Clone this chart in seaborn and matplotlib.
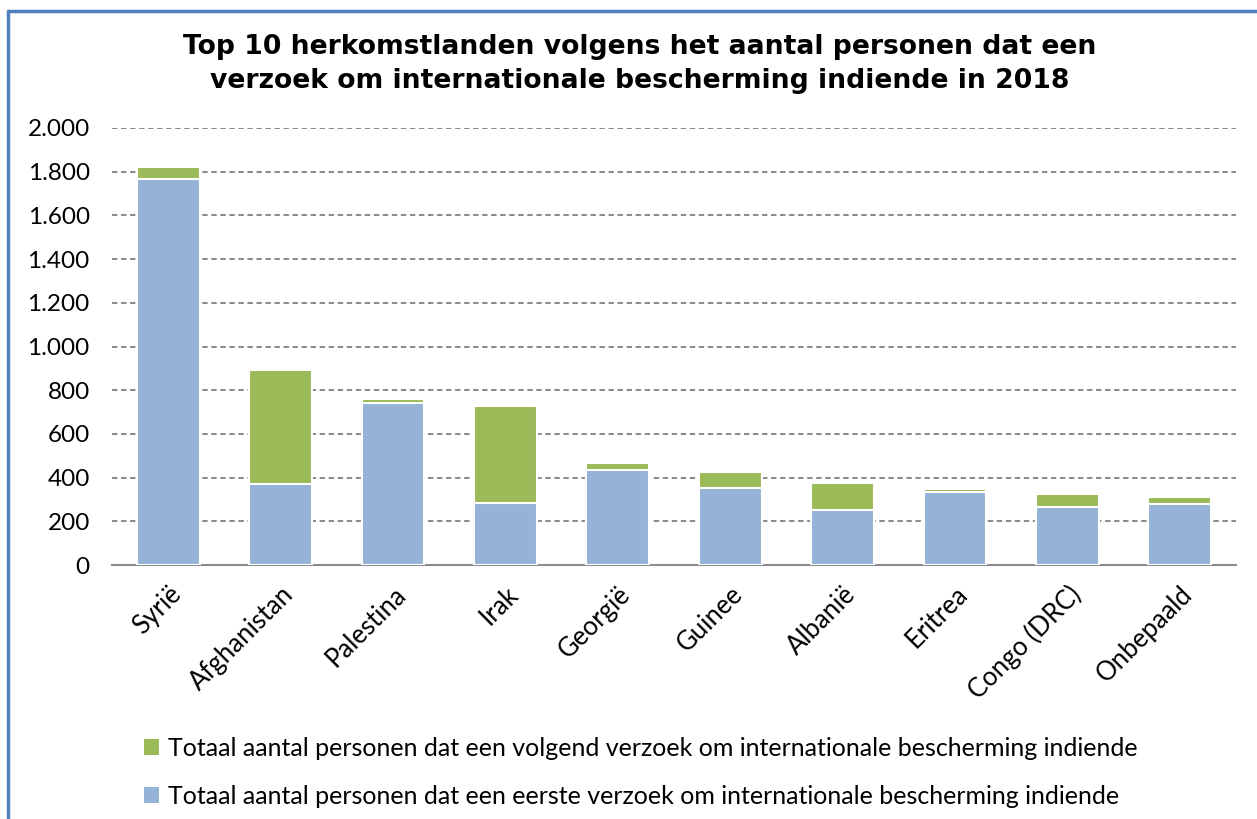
import matplotlib
matplotlib.use("Agg")
import matplotlib.pyplot as plt
from matplotlib.lines import Line2D
from matplotlib.patches import Patch
import seaborn as sns
import pandas as pd

countries = ["Syrië", "Afghanistan", "Palestina", "Irak", "Georgië",
             "Guinee", "Albanië", "Eritrea", "Congo (DRC)", "Onbepaald"]
eerste = [1767, 372, 743, 286, 436, 353, 252, 335, 265, 280]
volgend = [55, 519, 17, 440, 32, 71, 121, 15, 61, 30]
yticks = [0, 200, 400, 600, 800, 1000, 1200, 1400, 1600, 1800, 2000]
ytick_labels = ["0", "200", "400", "600", "800", "1.000", "1.200", "1.400", "1.600", "1.800", "2.000"]
title = ("Top 10 herkomstlanden volgens het aantal personen dat een\n"
         "verzoek om internationale bescherming indiende in 2018")
label_volgend = "Totaal aantal personen dat een volgend verzoek om internationale bescherming indiende"
label_eerste = "Totaal aantal personen dat een eerste verzoek om internationale bescherming indiende"

BLUE = "#95B3D7"
GREEN = "#9BBB59"

df = pd.DataFrame({"land": countries, "eerste": eerste, "volgend": volgend})
df["totaal"] = df["eerste"] + df["volgend"]

sns.set_theme(style="white")
plt.rcParams["font.family"] = ["Lato", "DejaVu Sans"]
plt.rcParams["text.color"] = "black"
plt.rcParams["xtick.color"] = "black"
plt.rcParams["ytick.color"] = "black"

fig = plt.figure(figsize=(12.57, 8.19), dpi=100)
ax = fig.add_axes([112 / 1257, 1 - 565 / 819, (1236 - 112) / 1257, (565 - 128) / 819])

ax.set_axisbelow(True)
for t in yticks[1:]:
    ax.axhline(t, color="#808080", linestyle=(0, (3, 2)), linewidth=1.3, zorder=0)

sns.barplot(data=df, x="land", y="totaal", color=GREEN, width=0.56, ax=ax,
            edgecolor="white", linewidth=1.5, saturation=1, zorder=2)
sns.barplot(data=df, x="land", y="eerste", color=BLUE, width=0.56, ax=ax,
            edgecolor="white", linewidth=1.5, saturation=1, zorder=3)

ax.set_ylim(0, 2000)
ax.set_xlim(-0.5, len(countries) - 0.5)
ax.set_yticks(yticks)
ax.set_yticklabels(ytick_labels, fontsize=17.5)
ax.set_xticks(range(len(countries)))
ax.set_xticklabels(countries, fontsize=18.5, rotation=45, ha="right", rotation_mode="anchor")
ax.set_xlabel("")
ax.set_ylabel("")
ax.tick_params(axis="y", length=0, pad=16)
ax.tick_params(axis="x", length=0, pad=12)
for s in ["top", "right", "left"]:
    ax.spines[s].set_visible(False)
ax.spines["bottom"].set_color("#8c8c8c")
ax.spines["bottom"].set_linewidth(1.5)

fig.text(0.509, 1 - 64 / 819, title, ha="center", va="center", fontsize=19.2,
         fontweight="bold", family=["DejaVu Sans"], linespacing=1.4, color="black")

handles = [Patch(facecolor=GREEN, edgecolor="none"), Patch(facecolor=BLUE, edgecolor="none")]
fig.legend(handles, [label_volgend, label_eerste], loc="upper left",
           bbox_to_anchor=(121 / 1257, 1 - 714 / 819), frameon=False, fontsize=18,
           handlelength=0.6, handleheight=0.6, handletextpad=0.4, labelspacing=1.0)

fig.add_artist(Line2D([8 / 1257, 8 / 1257], [0, 1 - 11 / 819], color="#4F81BD",
                      linewidth=2.5, transform=fig.transFigure))
fig.add_artist(Line2D([8 / 1257, 1], [1 - 11 / 819, 1 - 11 / 819], color="#4F81BD",
                      linewidth=2.5, transform=fig.transFigure))

fig.savefig("out.png", dpi=100)
